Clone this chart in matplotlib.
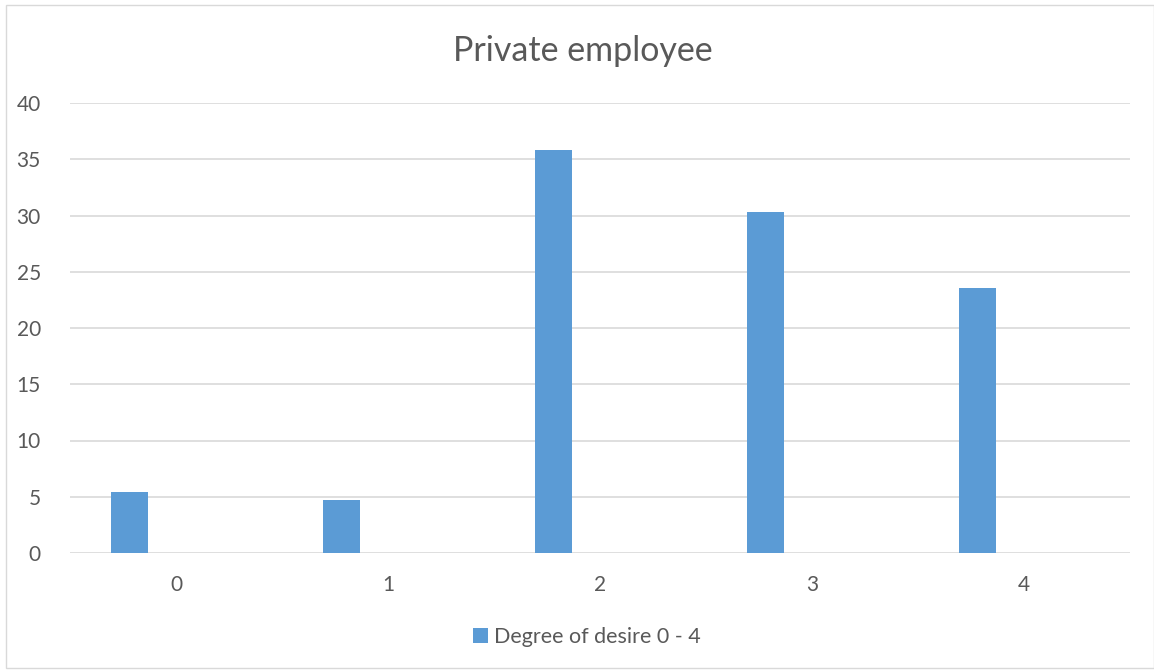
import matplotlib
matplotlib.use("Agg")
import matplotlib.pyplot as plt
import numpy as np

plt.rcParams["font.family"] = ["Lato", "DejaVu Sans"]

categories = ["0", "1", "2", "3", "4"]
values = [5.4, 4.75, 35.8, 30.3, 23.6]
series_name = "Degree of desire 0 - 4"

BAR = "#5b9bd5"
GRID = "#d9d9d9"
TXT = "#595959"

fig = plt.figure(figsize=(11.54, 6.72), dpi=100)
# chart border
fig.patches.append(plt.Rectangle((6 / 1154, 1 - 668 / 672), 1148 / 1154, 663 / 672,
                                 transform=fig.transFigure, fill=False,
                                 edgecolor=GRID, linewidth=1))
ax = fig.add_axes([70 / 1154, 1 - 553 / 672, 1060 / 1154, 450 / 672])

x = np.arange(len(categories))
ax.bar(x - 0.219, values, width=0.176, color=BAR, label=series_name, zorder=3)

ax.set_xlim(-0.5, len(categories) - 0.5)
ax.set_ylim(0, 40)
ax.set_yticks(range(0, 41, 5))
ax.set_xticks(x)
ax.set_xticklabels(categories)
ax.grid(axis="y", color=GRID, linewidth=1.2, zorder=0)
for s in ax.spines.values():
    s.set_visible(False)
ax.tick_params(length=0, labelsize=15, colors=TXT)
ax.tick_params(axis="x", pad=16)
ax.tick_params(axis="y", pad=21)

fig.text(583 / 1154, 1 - 51 / 672, "Private employee", ha="center", va="center",
         fontsize=24.5, color=TXT)
fig.legend(loc="center", bbox_to_anchor=(587 / 1154, 1 - 637 / 672), frameon=False,
           fontsize=15.5, labelcolor=TXT, handlelength=0.7, handleheight=0.7,
           handletextpad=0.3)

fig.savefig("out.png", dpi=100)
